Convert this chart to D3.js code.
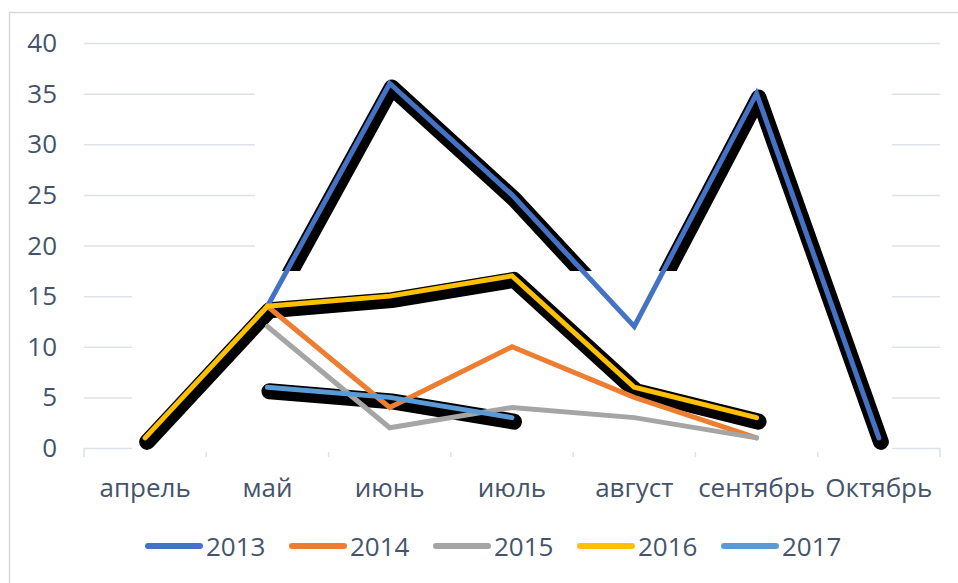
<!DOCTYPE html>
<html>
<head>
<meta charset="utf-8">
<script src="https://cdn.jsdelivr.net/npm/d3@7"></script>
<style>
  body { margin: 0; background: #fff; }
  text { font-family: "Open Sans", sans-serif; fill: #44546A; }
</style>
</head>
<body>
<div id="viz_container"></div>
<script>
// data
const months = ["апрель", "май", "июнь", "июль", "август", "сентябрь", "Октябрь"];
const years = ["2013", "2014", "2015", "2016", "2017"];
const v2013 = [null, 14, 36, 25, 12, 35, 1];
const v2014 = [null, 14, 4, 10, 5, 1, null];
const v2015 = [null, 12, 2, 4, 3, 1, null];
const v2016 = [1, 14, 15, 17, 6, 3, null];
const v2017 = [null, 6, 5, 3, null, null, null];
const yTicks = [0, 5, 10, 15, 20, 25, 30, 35, 40];

const colors = ["#4472C4", "#ED7D31", "#A5A5A5", "#FFC000", "#5B9BD5"];
const withShadow = [true, false, false, true, true];
const values = [v2013, v2014, v2015, v2016, v2017];

const W = 958, H = 583;
const plot = {left: 84, right: 940, top: 43, bottom: 448};

const svg = d3.select("#viz_container")
  .append("svg")
    .attr("width", W)
    .attr("height", H);

// chart frame
svg.append("rect")
  .attr("x", 9.5).attr("y", 12.5)
  .attr("width", 980).attr("height", 600)
  .attr("fill", "none")
  .attr("stroke", "#D9D9D9")
  .attr("stroke-width", 1.5);

const xScale = d3.scaleBand()
  .domain(months)
  .range([plot.left, plot.right]);
const xc = m => xScale(m) + xScale.bandwidth() / 2;

const yScale = d3.scaleLinear()
  .domain([0, 40])
  .range([plot.bottom, plot.top]);

// horizontal grid
svg.append("g")
    .attr("transform", `translate(${plot.left},0)`)
  .call(d3.axisLeft(yScale).tickValues(yTicks).tickSize(-(plot.right - plot.left)).tickFormat(""))
  .call(g => g.select(".domain").remove())
  .call(g => g.selectAll(".tick line").attr("stroke", "#DEE1E6").attr("stroke-width", 1.5));

// y labels
svg.append("g")
  .selectAll("text")
  .data(yTicks)
  .join("text")
    .attr("x", 57)
    .attr("y", d => yScale(d))
    .attr("dy", "0.35em")
    .attr("text-anchor", "end")
    .style("font-size", "26px")
    .text(d => d);

// category ticks below baseline
const edges = months.map(m => xScale(m)).concat([plot.right]);
svg.append("g")
  .selectAll("line")
  .data(edges)
  .join("line")
    .attr("x1", d => d).attr("x2", d => d)
    .attr("y1", plot.bottom).attr("y2", plot.bottom + 9)
    .attr("stroke", "#DEE1E6")
    .attr("stroke-width", 1.5);

// x labels
svg.append("g")
  .selectAll("text")
  .data(months)
  .join("text")
    .attr("x", d => xc(d))
    .attr("y", 497)
    .attr("text-anchor", "middle")
    .style("font-size", "26px")
    .text(d => d);

// white patches that cover the grid in the original
svg.append("rect").attr("x", 255).attr("y", 62).attr("width", 637).attr("height", 206).attr("fill", "#fff");
svg.append("rect").attr("x", 132).attr("y", 267).attr("width", 760).attr("height", 185).attr("fill", "#fff");

// clip for the partial shadow of 2013
const defs = svg.append("defs");
const clip = defs.append("clipPath").attr("id", "clip2013");
clip.append("rect").attr("x", 0).attr("y", 0).attr("width", W).attr("height", 267);
clip.append("rect").attr("x", 700).attr("y", 267).attr("width", 258).attr("height", 316);

const line = d3.line()
  .defined(d => d != null)
  .x((d, i) => xc(months[i]))
  .y(d => yScale(d));

// shadows
values.forEach((vals, i) => {
  if (!withShadow[i]) return;
  svg.append("path")
    .attr("d", line(vals))
    .attr("transform", "translate(2,4)")
    .attr("fill", "none")
    .attr("stroke", "#000")
    .attr("stroke-width", 16)
    .attr("stroke-linejoin", "round")
    .attr("stroke-linecap", "round")
    .attr("clip-path", i === 0 ? "url(#clip2013)" : null);
});

// lines
values.forEach((vals, i) => {
  svg.append("path")
    .attr("d", line(vals))
    .attr("fill", "none")
    .attr("stroke", colors[i])
    .attr("stroke-width", 5)
    .attr("stroke-linejoin", "miter")
    .attr("stroke-linecap", "round");
});

// legend
const legend = svg.append("g")
  .selectAll("g")
  .data(years)
  .join("g")
    .attr("transform", (d, i) => `translate(${148 + i * 144},546)`);
legend.append("line")
  .attr("x1", 0).attr("x2", 52)
  .attr("stroke", (d, i) => colors[i])
  .attr("stroke-width", 6)
  .attr("stroke-linecap", "round");
legend.append("text")
  .attr("x", 58)
  .attr("y", 10)
  .style("font-size", "26px")
  .text(d => d);
</script>
</body>
</html>
